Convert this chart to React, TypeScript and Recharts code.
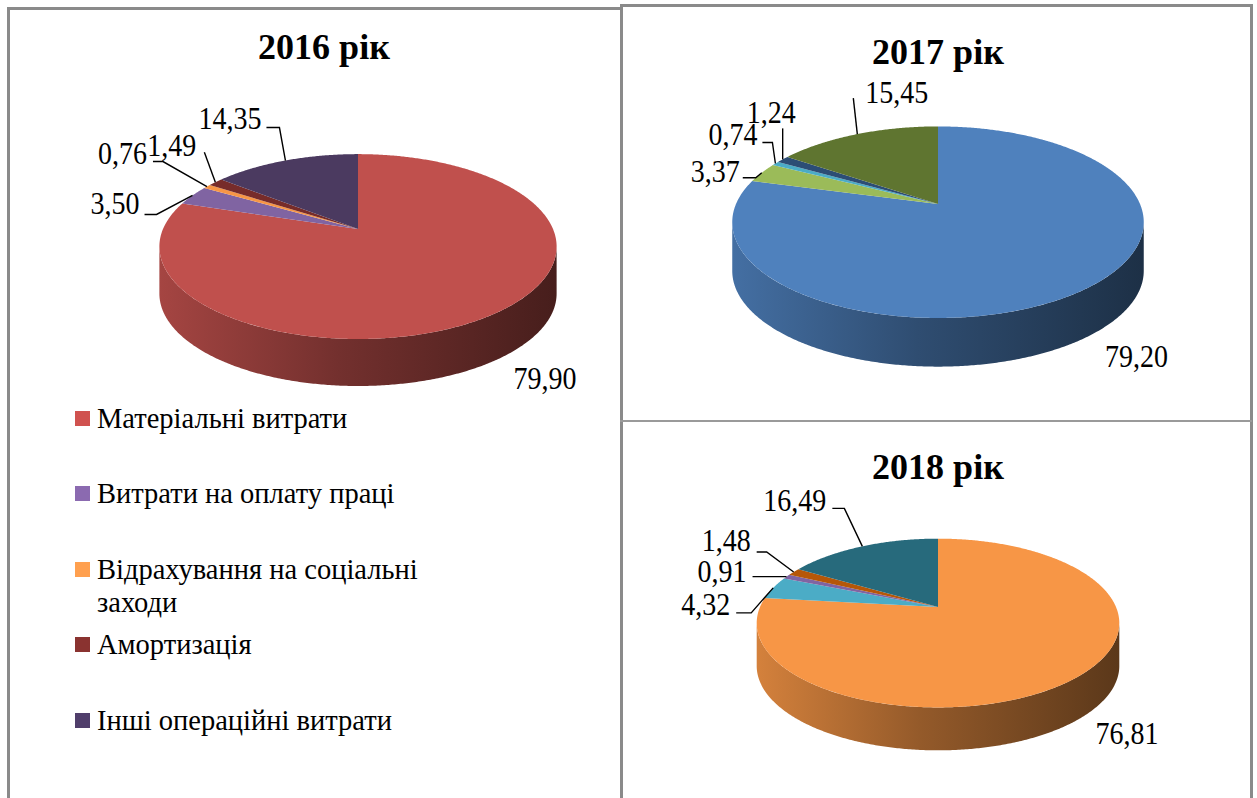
import React from 'react';
import { PieChart, Pie } from 'recharts';

// ---------- data ----------
const categories = [
  'Матеріальні витрати',
  'Витрати на оплату праці',
  'Відрахування на соціальні заходи',
  'Амортизація',
  'Інші операційні витрати',
];
const yearTitles = ['2016 рік', '2017 рік', '2018 рік'];
const values2016 = [79.9, 3.5, 0.76, 1.49, 14.35];
const values2017 = [79.2, 3.37, 0.74, 1.24, 15.45];
const values2018 = [76.81, 4.32, 0.91, 1.48, 16.49];

// ---------- styles ----------
const colors2016 = ['#C0504D', '#8064A2', '#F79646', '#772C2A', '#4B3A60'];
const colors2017 = ['#4F81BD', '#9BBB59', '#4BACC6', '#2C4D75', '#5F7530'];
const colors2018 = ['#F79646', '#4BACC6', '#8064A2', '#B65708', '#276A7C'];
const legendColors = ['#D0524F', '#8B6AB0', '#FFA04F', '#8A3330', '#503E6B'];

type LabelLayout = { ex: number; ey: number; hook: number; tx: number; ty: number } | null;
// leader-line layout (relative to the slice's rim point), like Excel's manual label placement
const layout2016: LabelLayout[] = [
  null,
  { ex: -36, ey: 19, hook: -12, tx: -5, ty: -11 },
  { ex: -44, ey: -25, hook: -10, tx: -6, ty: -8 },
  { ex: -11, ey: -30, hook: 0, tx: -8, ty: -7 },
  { ex: -6, ey: -33, hook: -13, tx: -5, ty: -9 },
];
const layout2017: LabelLayout[] = [
  null,
  { ex: -6, ey: 5, hook: -13, tx: -3, ty: -6 },
  { ex: -3, ey: -21, hook: -10, tx: -5, ty: -8 },
  { ex: 0, ey: -31, hook: 0, tx: 13, ty: -16 },
  { ex: -4, ey: -36, hook: 0, tx: 75, ty: -6 },
];
const layout2018: LabelLayout[] = [
  null,
  { ex: -22, ey: 25, hook: -15, tx: -6, ty: -8 },
  { ex: 0, ey: 0, hook: -34, tx: -6, ty: -5 },
  { ex: -27, ey: -20, hook: -10, tx: -6, ty: -11 },
  { ex: -18, ey: -38, hook: -12, tx: -6, ty: -8 },
];

const charts = [
  { id: 'p16', title: yearTitles[0], values: values2016, colors: colors2016, layout: layout2016, cx: 358, cy: 229, r: 195, titleX: 324, titleY: 47 },
  { id: 'p17', title: yearTitles[1], values: values2017, colors: colors2017, layout: layout2017, cx: 938, cy: 204, r: 202, titleX: 938, titleY: 52 },
  { id: 'p18', title: yearTitles[2], values: values2018, colors: colors2018, layout: layout2018, cx: 938, cy: 607, r: 178, titleX: 938, titleY: 467 },
];

// 3D perspective parameters
const K = 0.19;
const TILT = 0.457;
const DEPTH = 0.241;
const RAD = Math.PI / 180;
const FONT = "'Liberation Serif', Tinos, 'DejaVu Serif', serif";

function proj(cx: number, cy: number, r: number, deg: number, f = 1): [number, number] {
  const u = f * Math.cos(deg * RAD);
  const v = f * Math.sin(deg * RAD);
  const d = 1 + K * v;
  return [cx + (r * u) / d, cy - (r * TILT * v) / d];
}

function arcPts(cx: number, cy: number, r: number, a0: number, a1: number, dy = 0): string[] {
  const n = Math.max(2, Math.ceil(Math.abs(a1 - a0) / 0.5));
  const pts: string[] = [];
  for (let i = 0; i <= n; i++) {
    const a = a0 + ((a1 - a0) * i) / n;
    const [x, y] = proj(cx, cy, r, a);
    pts.push(`${x.toFixed(2)},${(y + dy).toFixed(2)}`);
  }
  return pts;
}

function shade(hex: string, f: number): string {
  const n = parseInt(hex.slice(1), 16);
  const c = [(n >> 16) & 255, (n >> 8) & 255, n & 255].map((v) => Math.max(0, Math.min(255, Math.round(v * f))));
  return '#' + c.map((v) => v.toString(16).padStart(2, '0')).join('');
}

const fmt = (v: number) => v.toFixed(2).replace('.', ',');

const makeGeom = (chart: typeof charts[number]) => (props: any) => {
  const { cx, cy, outerRadius, startAngle, endAngle, index } = props;
  const r = outerRadius;
  const col = chart.colors[index];
  const D = r * DEPTH;
  const lo = Math.min(startAngle, endAngle);
  const hi = Math.max(startAngle, endAngle);
  const s = Math.asin(K) / RAD;
  const sides: React.ReactNode[] = [];
  const gid = `${chart.id}-side-${index}`;
  const half = r / Math.sqrt(1 - K * K);
  for (let n = -2; n <= 2; n++) {
    const f0 = 180 + s + 360 * n;
    const f1 = 360 - s + 360 * n;
    const i0 = Math.max(lo, f0);
    const i1 = Math.min(hi, f1);
    if (i1 > i0) {
      const top = arcPts(cx, cy, r, i0, i1);
      const bot = arcPts(cx, cy, r, i1, i0, D);
      sides.push(<path key={n} d={`M${top.join(' L')} L${bot.join(' L')} Z`} fill={`url(#${gid})`} stroke="none" />);
    }
  }
  const topPts = arcPts(cx, cy, r, startAngle, endAngle);
  return (
    <g>
      <defs>
        <linearGradient id={gid} gradientUnits="userSpaceOnUse" x1={cx - half} y1={0} x2={cx + half} y2={0}>
          <stop offset="0" stopColor={shade(col, 0.86)} />
          <stop offset="0.45" stopColor={shade(col, 0.6)} />
          <stop offset="1" stopColor={shade(col, 0.37)} />
        </linearGradient>
      </defs>
      {sides}
      <path d={`M${cx},${cy} L${topPts.join(' L')} Z`} fill={col} stroke="none" />
    </g>
  );
};

const LabelText = ({ x, y, anchor, children }: { x: number; y: number; anchor: 'start' | 'middle' | 'end'; children: React.ReactNode }) => (
  <g transform={`translate(${x},${y}) scale(1,1.1)`}>
    <text x={0} y={0} textAnchor={anchor} dominantBaseline="central" fontFamily={FONT} fontSize={28} fill="#000">
      {children}
    </text>
  </g>
);

const makeText = (chart: typeof charts[number]) => (props: any) => {
  const { cx, cy, outerRadius, startAngle, endAngle, index, value } = props;
  const r = outerRadius;
  const mid = (startAngle + endAngle) / 2;
  const D = r * DEPTH;
  const L = chart.layout[index];
  const txt = fmt(Number(value));
  if (!L) {
    const [x, y] = proj(cx, cy, r, mid, 1.3);
    return (
      <LabelText x={x} y={y + 0.7 * D} anchor="middle">
        {txt}
      </LabelText>
    );
  }
  const [ax, ay] = proj(cx, cy, r, mid, 1);
  const ex = ax + L.ex;
  const ey = ay + L.ey;
  const hx = ex + L.hook;
  return (
    <g>
      <polyline points={`${ax},${ay} ${ex},${ey} ${hx},${ey}`} fill="none" stroke="#000" strokeWidth={1.4} />
      <LabelText x={hx + L.tx} y={ey + L.ty} anchor="end">
        {txt}
      </LabelText>
    </g>
  );
};

const line = (left: number, top: number, width: number, height: number, color = '#8a8a8a') => (
  <div style={{ position: 'absolute', left, top, width, height, background: color }} />
);

export default function App() {
  return (
    <div style={{ position: 'absolute', left: 0, top: 0, width: 1257, height: 798, background: '#fff', overflow: 'hidden', fontFamily: FONT }}>
      {/* table borders */}
      {line(7, 7, 614, 2.5)}
      {line(7, 7, 2.5, 800)}
      {line(620, 4, 2.5, 800)}
      {line(620, 4, 633, 2.5)}
      {line(1250, 4, 2.5, 800)}
      {line(620, 420, 632, 2, '#9a9a9a')}

      <div style={{ position: 'absolute', left: 0, top: 0 }}>
        <PieChart width={1257} height={798} margin={{ top: 0, right: 0, bottom: 0, left: 0 }}>
          {charts.map((c) => {
            const data = c.values.map((v, i) => ({ name: categories[i], value: v }));
            return [
              <Pie
                key={c.id + 'g'}
                data={data}
                dataKey="value"
                nameKey="name"
                cx={c.cx}
                cy={c.cy}
                innerRadius={0}
                outerRadius={c.r}
                startAngle={90}
                endAngle={-270}
                fill="none"
                stroke="none"
                isAnimationActive={false}
                label={makeGeom(c)}
                labelLine={false}
              />,
              <Pie
                key={c.id + 't'}
                data={data}
                dataKey="value"
                nameKey="name"
                cx={c.cx}
                cy={c.cy}
                innerRadius={0}
                outerRadius={c.r}
                startAngle={90}
                endAngle={-270}
                fill="none"
                stroke="none"
                isAnimationActive={false}
                label={makeText(c)}
                labelLine={false}
              />,
            ];
          })}
        </PieChart>
      </div>

      {charts.map((c) => (
        <div
          key={c.id + 'title'}
          style={{
            position: 'absolute',
            left: c.titleX - 150,
            top: c.titleY - 18,
            width: 300,
            textAlign: 'center',
            fontSize: 36,
            lineHeight: '36px',
            fontWeight: 'bold',
            color: '#000',
          }}
        >
          {c.title}
        </div>
      ))}

      {categories.map((name, i) => {
        const y = 418 + i * 75.5;
        return (
          <div key={name}>
            <div style={{ position: 'absolute', left: 75, top: y - 7.5, width: 15, height: 15, background: legendColors[i] }} />
            <div style={{ position: 'absolute', left: 97, top: y - 16.5, width: 350, fontSize: 28.5, lineHeight: '33px', color: '#000' }}>
              {name}
            </div>
          </div>
        );
      })}
    </div>
  );
}
